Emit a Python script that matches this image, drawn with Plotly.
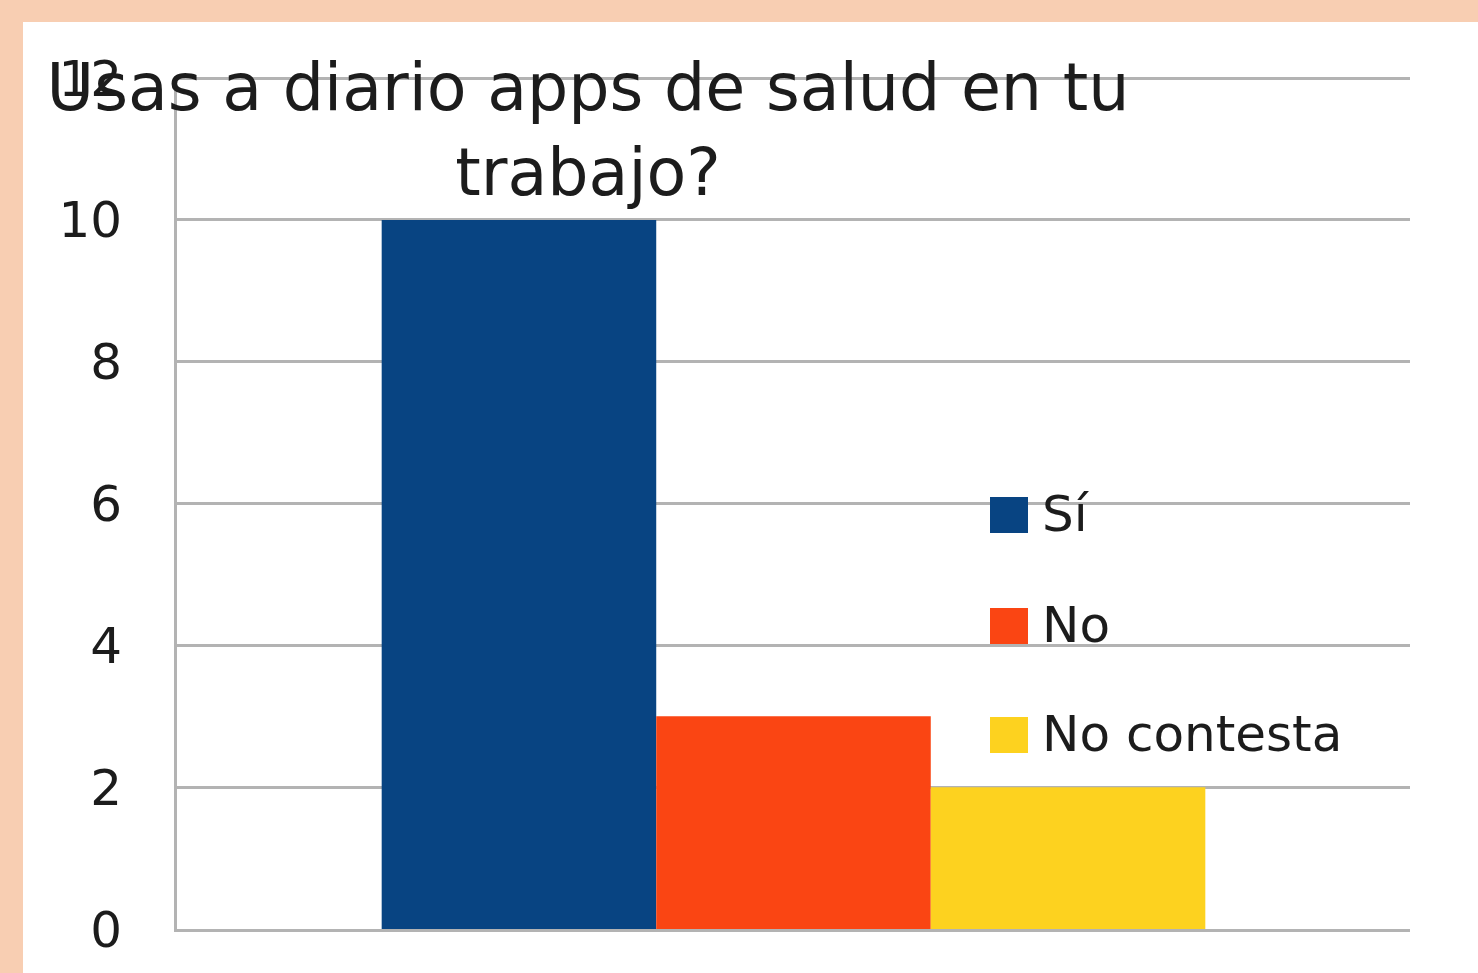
import plotly.graph_objects as go

# ---- data ----
categories = ["Sí", "No", "No contesta"]
values = [10, 3, 2]
colors = ["#084482", "#FA4513", "#FDD21F"]
y_ticks = [0, 2, 4, 6, 8, 10, 12]
title_text = "Usas a diario apps de salud en tu<br>trabajo?"

W, H = 1478, 973
ML, MR, MT, MB = 177, 68, 76, 44
PW, PH = W - ML - MR, H - MT - MB

FONT = "DejaVu Sans"
TXT = "#1c1c1c"
GRID = "#b3b3b3"

fig = go.Figure()
for name, v, c in zip(categories, values, colors):
    fig.add_trace(go.Bar(x=["grupo"], y=[v], name=name, marker=dict(color=c, line=dict(width=0)),
                         showlegend=False))

def px_x(p):
    return (p - ML) / PW

def px_y(p):
    return (H - MB - p) / PH

shapes = [
    # white card over peach background
    dict(type="rect", xref="paper", yref="paper", x0=px_x(23), x1=px_x(W + 5),
         y0=px_y(H + 5), y1=px_y(22), fillcolor="white", line=dict(width=0), layer="below"),
]
annotations = []
# manual legend built from the category lists
leg_centers = [515, 626, 735]
for name, c, yc in zip(categories, colors, leg_centers):
    shapes.append(dict(type="rect", xref="paper", yref="paper",
                       x0=px_x(990), x1=px_x(1028), y0=px_y(yc + 18), y1=px_y(yc - 18),
                       fillcolor=c, line=dict(width=0)))
    annotations.append(dict(text=name, xref="paper", yref="paper", x=px_x(1040), y=px_y(yc - 1),
                            xanchor="left", yanchor="middle", showarrow=False,
                            font=dict(family=FONT, size=50, color=TXT)))

fig.update_layout(
    width=W, height=H,
    margin=dict(l=ML, r=MR, t=MT, b=MB, pad=0),
    paper_bgcolor="#F8CEB2",
    plot_bgcolor="white",
    barmode="group",
    bargap=0.332,
    bargroupgap=0,
    title=dict(text=title_text, x=588 / W, xanchor="center", xref="container",
               y=1 - 110 / H, yanchor="top", yref="container",
               font=dict(family=FONT, size=65, color=TXT)),
    xaxis=dict(showticklabels=False, showgrid=False, showline=True, linecolor=GRID, linewidth=3,
               ticks="", zeroline=False),
    yaxis=dict(range=[0, 12.03], tickvals=y_ticks, showgrid=True, gridcolor=GRID, gridwidth=2.5,
               showline=True, linecolor=GRID, linewidth=3, zeroline=False, ticks="",
               ticklabelstandoff=42,
               tickfont=dict(family=FONT, size=50, color=TXT)),
    shapes=shapes,
    annotations=annotations,
    showlegend=False,
)

fig.write_html("out.html", config={"displayModeBar": False},
               post_script="document.body.style.margin='0';document.body.style.overflow='hidden';")
